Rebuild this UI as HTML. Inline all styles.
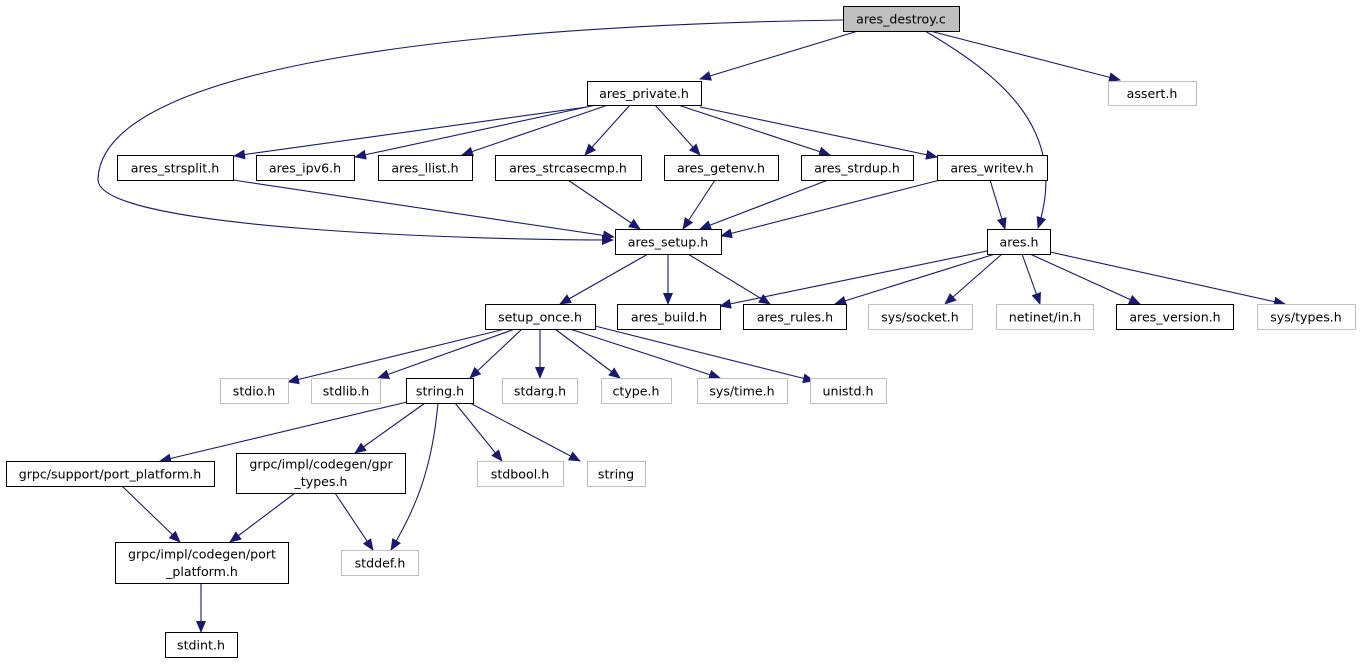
<!DOCTYPE html>
<html><head><meta charset="utf-8"><style>
html,body{margin:0;padding:0;background:#fff;}
svg{display:block;}
text{font-family:"DejaVu Sans","Liberation Sans",sans-serif;font-size:12.6px;fill:#000;text-anchor:middle;}
.e{fill:none;stroke:#191970;stroke-width:1.1;marker-end:url(#a);}
.n{fill:#fff;stroke:#000;stroke-width:1;}
.g{fill:#fff;stroke:#bfbfbf;stroke-width:1;}
</style></head><body>
<svg width="1360" height="664" viewBox="0 0 1360 664" xmlns="http://www.w3.org/2000/svg">
<defs><marker id="a" markerWidth="12" markerHeight="10" refX="11" refY="5" orient="auto" markerUnits="userSpaceOnUse"><path d="M0,0 L12,5 L0,10 z" fill="#191970"/></marker></defs>
<path class="e" d="M858,31 L700,79"/>
<path class="e" d="M930,31 L1120,80"/>
<path class="e" d="M925,31 C1000,75 1070,130 1038,228"/>
<path class="e" d="M843,20 C500,25 100,60 98,180 C100,230 480,240 613,240"/>
<path class="e" d="M587,107 L234,156"/>
<path class="e" d="M596,105 L355,157"/>
<path class="e" d="M608,105 L462,155"/>
<path class="e" d="M630,105 L585,155"/>
<path class="e" d="M655,105 L700,155"/>
<path class="e" d="M678,105 L830,155"/>
<path class="e" d="M700,107 L937,157"/>
<path class="e" d="M233,180 L614,237"/>
<path class="e" d="M568,180 L640,229"/>
<path class="e" d="M715,180 L683,229"/>
<path class="e" d="M828,180 L700,229"/>
<path class="e" d="M940,180 L721,236"/>
<path class="e" d="M990,180 L1005,229"/>
<path class="e" d="M648,254 L560,304"/>
<path class="e" d="M668,254 L668,304"/>
<path class="e" d="M688,254 L770,304"/>
<path class="e" d="M987,251 L720,306"/>
<path class="e" d="M995,254 L835,304"/>
<path class="e" d="M1002,254 L945,304"/>
<path class="e" d="M1022,254 L1040,304"/>
<path class="e" d="M1030,254 L1140,304"/>
<path class="e" d="M1050,252 L1285,304"/>
<path class="e" d="M505,329 L288,382"/>
<path class="e" d="M515,329 L378,378"/>
<path class="e" d="M522,329 L470,378"/>
<path class="e" d="M540,329 L540,378"/>
<path class="e" d="M555,329 L620,378"/>
<path class="e" d="M570,329 L720,378"/>
<path class="e" d="M595,326 L814,381"/>
<path class="e" d="M407,402 L160,461"/>
<path class="e" d="M425,403 L355,453"/>
<path class="e" d="M438,403 C432,470 415,510 391,550"/>
<path class="e" d="M455,403 L502,461"/>
<path class="e" d="M470,403 L580,461"/>
<path class="e" d="M122,486 L180,542"/>
<path class="e" d="M295,493 L230,542"/>
<path class="e" d="M335,493 L373,550"/>
<path class="e" d="M201,583 L201,632"/>
<rect x="843.5" y="6.5" width="116" height="25" fill="#bfbfbf" stroke="#000"/><text x="901" y="23.5">ares_destroy.c</text>
<rect class="n" x="587.5" y="81.5" width="114" height="24"/><text x="644" y="98">ares_private.h</text>
<rect class="g" x="1108.5" y="81.5" width="88" height="24"/><text x="1152" y="98">assert.h</text>
<rect class="n" x="117.5" y="155.5" width="116" height="25"/><text x="175" y="172.5">ares_strsplit.h</text>
<rect class="n" x="256.5" y="155.5" width="98" height="25"/><text x="305" y="172.5">ares_ipv6.h</text>
<rect class="n" x="378.5" y="155.5" width="94" height="25"/><text x="425" y="172.5">ares_llist.h</text>
<rect class="n" x="495.5" y="155.5" width="146" height="25"/><text x="568" y="172.5">ares_strcasecmp.h</text>
<rect class="n" x="664.5" y="155.5" width="114" height="25"/><text x="721" y="172.5">ares_getenv.h</text>
<rect class="n" x="801.5" y="155.5" width="112" height="25"/><text x="857" y="172.5">ares_strdup.h</text>
<rect class="n" x="937.5" y="155.5" width="110" height="25"/><text x="992" y="172.5">ares_writev.h</text>
<rect class="n" x="615.5" y="229.5" width="106" height="25"/><text x="668" y="246.5">ares_setup.h</text>
<rect class="n" x="987.5" y="229.5" width="63" height="25"/><text x="1019" y="246.5">ares.h</text>
<rect class="n" x="485.5" y="304.5" width="110" height="25"/><text x="540" y="321.5">setup_once.h</text>
<rect class="n" x="617.5" y="304.5" width="103" height="25"/><text x="669" y="321.5">ares_build.h</text>
<rect class="n" x="743.5" y="304.5" width="103" height="25"/><text x="795" y="321.5">ares_rules.h</text>
<rect class="g" x="868.5" y="304.5" width="104" height="25"/><text x="920" y="321.5">sys/socket.h</text>
<rect class="g" x="996.5" y="304.5" width="97" height="25"/><text x="1045" y="321.5">netinet/in.h</text>
<rect class="n" x="1116.5" y="304.5" width="117" height="25"/><text x="1175" y="321.5">ares_version.h</text>
<rect class="g" x="1257.5" y="304.5" width="98" height="25"/><text x="1306" y="321.5">sys/types.h</text>
<rect class="g" x="220.5" y="378.5" width="68" height="25"/><text x="254" y="395.5">stdio.h</text>
<rect class="g" x="311.5" y="378.5" width="69" height="25"/><text x="346" y="395.5">stdlib.h</text>
<rect class="n" x="406.5" y="378.5" width="67" height="25"/><text x="440" y="395.5">string.h</text>
<rect class="g" x="502.5" y="378.5" width="75" height="25"/><text x="540" y="395.5">stdarg.h</text>
<rect class="g" x="601.5" y="378.5" width="70" height="25"/><text x="636" y="395.5">ctype.h</text>
<rect class="g" x="697.5" y="378.5" width="90" height="25"/><text x="742" y="395.5">sys/time.h</text>
<rect class="g" x="810.5" y="378.5" width="76" height="25"/><text x="848" y="395.5">unistd.h</text>
<rect class="n" x="6.5" y="461.5" width="208" height="25"/><text x="110" y="478.5">grpc/support/port_platform.h</text>
<rect class="n" x="236.5" y="453.5" width="169" height="40"/><text x="321" y="468.5">grpc/impl/codegen/gpr</text><text x="321" y="486">_types.h</text>
<rect class="g" x="477.5" y="461.5" width="86" height="25"/><text x="520" y="478.5">stdbool.h</text>
<rect class="g" x="587.5" y="461.5" width="58" height="25"/><text x="616" y="478.5">string</text>
<rect class="n" x="115.5" y="542.5" width="173" height="41"/><text x="202" y="558.5">grpc/impl/codegen/port</text><text x="202" y="576">_platform.h</text>
<rect class="g" x="341.5" y="550.5" width="77" height="25"/><text x="380" y="567.5">stddef.h</text>
<rect class="n" x="165.5" y="632.5" width="72" height="25"/><text x="201" y="649.5">stdint.h</text>
</svg>
</body></html>
